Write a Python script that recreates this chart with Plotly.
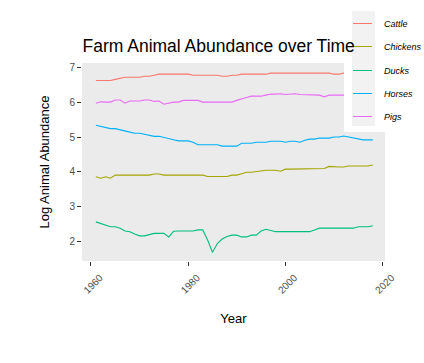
import plotly.graph_objects as go

years = list(range(1961, 2019))

cattle = ([6.62]*4 + [6.65, 6.68] + [6.71]*4 + [6.74]*2 + [6.77] + [6.80]*7 +
          [6.77]*6 + [6.74]*2 + [6.77]*2 + [6.80]*6 + [6.83]*3 + [6.85]*7 +
          [6.83]*3 + [6.80]*2 + [6.83]*7)

chickens = ([3.86, 3.82, 3.86, 3.82, 3.91, 3.91] + [3.89]*4 + [3.91]*2 + [3.94]*2 +
            [3.91]*5 + [3.93]*3 + [3.91] + [3.87]*5 + [3.91]*2 + [3.95] + [3.99]*2 +
            [4.01] + [4.05]*4 + [4.02] + [4.08]*6 + [4.10]*3 + [4.16] + [4.14]*3 +
            [4.17]*5 + [4.20])

ducks = ([2.57, 2.52, 2.49, 2.43, 2.43, 2.39, 2.31, 2.29, 2.22, 2.17, 2.17, 2.20] +
         [2.24]*3 + [2.14, 2.30] + [2.31]*4 + [2.34]*2 +
         [2.05, 1.70, 1.95, 2.08, 2.15, 2.19, 2.19, 2.14, 2.14, 2.19, 2.19, 2.31, 2.36, 2.33] +
         [2.29]*8 + [2.34] + [2.39]*8 + [2.43]*3 + [2.46])

horses = ([5.34, 5.31, 5.28, 5.24, 5.24, 5.20, 5.17, 5.14, 5.11, 5.11, 5.08, 5.05, 5.02, 5.02,
           4.98, 4.95, 4.92, 4.89, 4.89, 4.89, 4.85] + [4.78]*5 + [4.74]*4 + [4.82]*3 +
          [4.85]*3 + [4.88]*3 + [4.85] + [4.88]*2 + [4.85] + [4.91] + [4.94]*2 + [4.97]*3 +
          [5.00]*2 + [5.03, 5.00, 4.97, 4.94] + [4.92]*3)

pigs = ([5.97, 6.01, 6.00, 6.00, 6.06, 6.06, 5.97] + [6.03]*3 + [6.06]*2 + [6.02, 6.03, 5.94,
        5.98, 6.00, 6.00] + [6.05]*4 + [6.00]*7 + [6.05, 6.10, 6.13, 6.17, 6.17, 6.17, 6.20,
        6.23, 6.23, 6.24, 6.22, 6.24, 6.24] + [6.22]*4 + [6.20, 6.15] + [6.20]*10)

names = ["Cattle", "Chickens", "Ducks", "Horses", "Pigs"]
colors = ["#F8766D", "#A3A500", "#00BF7D", "#00B0F6", "#E76BF3"]
series = [cattle, chickens, ducks, horses, pigs]

x_ticks = [1960, 1980, 2000, 2020]
y_ticks = [2, 3, 4, 5, 6, 7]

W, H = 424, 363
L, R, T, B = 82, 385, 63, 261

def px_x(p):
    return (p - L) / (R - L)

def px_y(p):
    return (B - p) / (B - T)

fig = go.Figure()
for n, c, s in zip(names, colors, series):
    fig.add_trace(go.Scatter(x=years, y=s, mode="lines", name=n,
                             line=dict(color=c, width=1.1), showlegend=False))

tickfont = dict(family="Liberation Sans, Arial, sans-serif", size=10, color="#4d4d4d")
titlefont = dict(family="Liberation Sans, Arial, sans-serif", size=13, color="black")

shapes = [
    dict(type="rect", xref="paper", yref="paper", x0=px_x(344), x1=px_x(440),
         y0=px_y(132), y1=px_y(0), fillcolor="white", line=dict(width=0), layer="above"),
    dict(type="rect", xref="paper", yref="paper", x0=px_x(352), x1=px_x(375),
         y0=px_y(126), y1=px_y(11), fillcolor="#f2f2f2", line=dict(width=0), layer="above"),
]
annotations = []
for i, (n, c) in enumerate(zip(names, colors)):
    yc = round(23 + i * 23.3) + 0.5
    shapes.append(dict(type="line", xref="paper", yref="paper", x0=px_x(353), x1=px_x(372),
                       y0=px_y(yc), y1=px_y(yc), line=dict(color=c, width=1), layer="above"))
    annotations.append(dict(text=n, xref="paper", yref="paper", x=px_x(382), y=px_y(yc),
                            xanchor="left", yanchor="middle", showarrow=False,
                            font=dict(family="Liberation Sans, Arial, sans-serif", size=9,
                                      color="black", style="italic")))

fig.update_layout(
    width=W, height=H,
    margin=dict(l=L, r=W - R, t=T, b=H - B, pad=0),
    paper_bgcolor="white", plot_bgcolor="#ebebeb",
    title=dict(text="Farm Animal Abundance over Time", x=px_x(82.5), xref="paper",
               xanchor="left", y=1 - 46 / H, yref="container", yanchor="middle",
               font=dict(family="Liberation Sans, Arial, sans-serif", size=17.5, color="black")),
    xaxis=dict(range=[1958.15, 2020.5], tickvals=x_ticks, ticktext=[str(t) for t in x_ticks],
               tickangle=-45, ticks="outside", ticklen=4, tickcolor="#333333", tickwidth=1,
               ticklabelshift=9, ticklabelstandoff=2,
               showgrid=False, zeroline=False, showline=False, tickfont=tickfont,
               title=dict(text="Year", font=titlefont, standoff=19), automargin=False),
    yaxis=dict(range=[1.45, 7.12], tickvals=y_ticks, ticks="outside", ticklen=4,
               tickcolor="#333333", tickwidth=1, showgrid=False, zeroline=False,
               showline=False, tickfont=tickfont,
               title=dict(text="Log Animal Abundance", font=titlefont, standoff=16),
               automargin=False),
    shapes=shapes, annotations=annotations,
)

fig.write_html("out.html", config={"displayModeBar": False},
               post_script="document.body.style.margin='0px';")
